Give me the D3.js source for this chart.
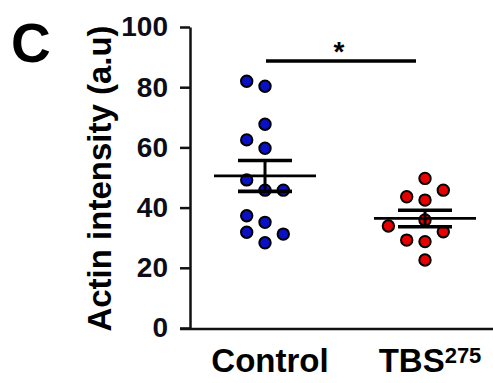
<!DOCTYPE html>
<html>
<head>
<meta charset="utf-8">
<script src="https://cdn.jsdelivr.net/npm/d3@7.9.0/dist/d3.min.js"></script>
<style>
  html, body { margin: 0; padding: 0; background: #fff; }
  svg { display: block; font-family: 'Liberation Sans', Arial, sans-serif; font-weight: bold; }
</style>
</head>
<body>
<svg id="chart" width="493" height="383"></svg>
<script>
// values
const groups = ['Control', 'TBS'];
const controlValues = [82.0, 80.3, 67.7, 62.5, 59.7, 49.2, 45.8, 45.8, 37.3, 35.1, 31.8, 31.2, 28.3];
const controlSlots  = [-1, 0, 0, -1, 0, -1, 0, 1, -1, 0, -1, 1, 0];
const tbsValues = [49.7, 45.8, 43.6, 42.5, 35.9, 33.9, 32.0, 29.2, 28.7, 22.6];
const tbsSlots  = [0, 1, -1, 0, 0, -2, 1, -1, 0, 0];
const yTicks = [0, 20, 40, 60, 80, 100];

const svg = d3.select('#chart');

const y = d3.scaleLinear().domain([0, 100]).range([328, 27]);
const x = d3.scalePoint().domain(groups).range([265, 425]);
const slotW = 18.3;

const series = [
  { name: 'Control', values: controlValues, slots: controlSlots, fill: '#0a10c4' },
  { name: 'TBS', values: tbsValues, slots: tbsSlots, fill: '#e60000' }
];

// panel letter
svg.append('text')
  .attr('x', 11).attr('y', 62)
  .attr('font-size', 55)
  .attr('fill', '#000')
  .text('C');

// y axis
const yAxis = svg.append('g')
  .attr('transform', 'translate(190,0)')
  .call(d3.axisLeft(y).tickValues(yTicks).tickSize(10).tickSizeOuter(0).tickPadding(12));
yAxis.select('.domain').attr('stroke', '#111').attr('stroke-width', 2.5);
yAxis.selectAll('.tick line').attr('stroke', '#111').attr('stroke-width', 2.5);
yAxis.selectAll('.tick text')
  .attr('font-size', 28)
  .attr('font-family', "'Liberation Sans', Arial, sans-serif")
  .attr('font-weight', 'bold')
  .attr('fill', '#0d0d1a');

// x axis line
svg.append('line')
  .attr('x1', 180).attr('x2', 493)
  .attr('y1', y(0) + 1).attr('y2', y(0) + 1)
  .attr('stroke', '#111').attr('stroke-width', 2.5);

// y label
svg.append('text')
  .attr('transform', `translate(111,${(y(0) + y(100)) / 2 + 1}) rotate(-90)`)
  .attr('text-anchor', 'middle')
  .attr('font-size', 33)
  .attr('fill', '#000')
  .text('Actin intensity (a.u)');

// x labels
svg.append('text')
  .attr('x', x('Control') + 5).attr('y', 372)
  .attr('text-anchor', 'middle')
  .attr('font-size', 33)
  .text('Control');

const tbsLabel = svg.append('text')
  .attr('x', x('TBS') + 5).attr('y', 372)
  .attr('text-anchor', 'middle')
  .attr('font-size', 33);
tbsLabel.append('tspan').text('TBS');
tbsLabel.append('tspan').attr('font-size', 22).attr('dy', -9).text('275');

// dots and mean ± SEM
series.forEach(s => {
  const cx = x(s.name);
  const m = d3.mean(s.values);
  const sem = d3.deviation(s.values) / Math.sqrt(s.values.length);

  svg.append('g').selectAll('circle')
    .data(s.values)
    .join('circle')
      .attr('cx', (d, i) => cx + s.slots[i] * slotW)
      .attr('cy', d => y(d))
      .attr('r', 5.7)
      .attr('fill', s.fill)
      .attr('stroke', '#000')
      .attr('stroke-width', 2);

  const g = svg.append('g').attr('stroke', '#000');
  g.append('line')
    .attr('x1', cx - 51).attr('x2', cx + 51)
    .attr('y1', y(m)).attr('y2', y(m))
    .attr('stroke-width', 2.8);
  g.append('line')
    .attr('x1', cx).attr('x2', cx)
    .attr('y1', y(m + sem)).attr('y2', y(m - sem))
    .attr('stroke-width', 3);
  [m + sem, m - sem].forEach(v => {
    g.append('line')
      .attr('x1', cx - 27).attr('x2', cx + 27)
      .attr('y1', y(v)).attr('y2', y(v))
      .attr('stroke-width', 3.6);
  });
});

// significance bar
svg.append('line')
  .attr('x1', 266).attr('x2', 416)
  .attr('y1', 61).attr('y2', 61)
  .attr('stroke', '#000').attr('stroke-width', 3.5);
svg.append('text')
  .attr('x', 339).attr('y', 61)
  .attr('text-anchor', 'middle')
  .attr('font-size', 28)
  .text('*');
</script>
</body>
</html>
